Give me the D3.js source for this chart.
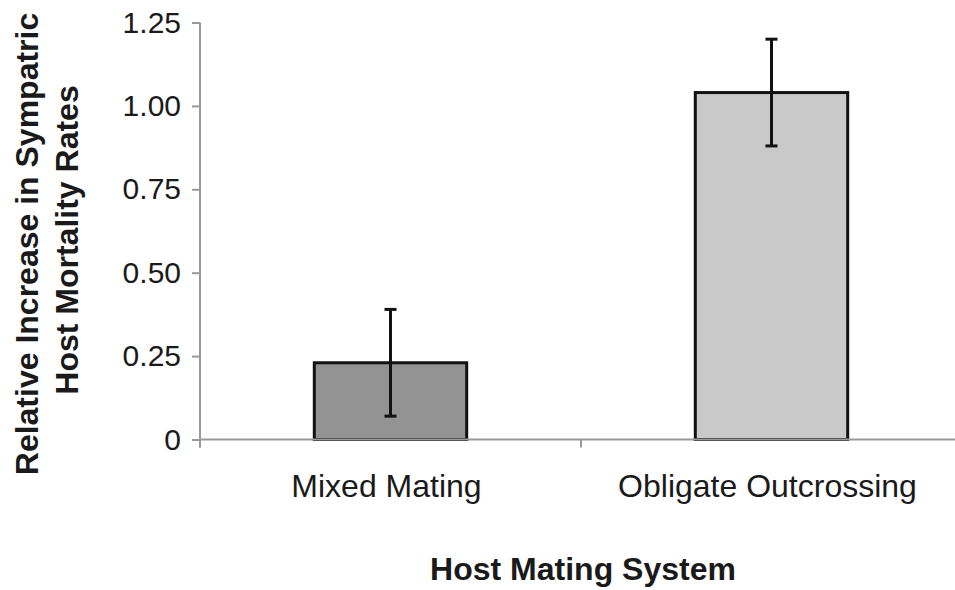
<!DOCTYPE html>
<html>
<head>
<meta charset="utf-8">
<script src="https://cdn.jsdelivr.net/npm/d3@7"></script>
<style>
  body { margin: 0; background: #fff; }
  text { font-family: "Liberation Sans", Arial, sans-serif; }
</style>
</head>
<body>
<svg id="chart" width="955" height="590"></svg>
<script>
const categories = ["Mixed Mating", "Obligate Outcrossing"];
const means = [0.23, 1.04];
const errLow = [0.07, 0.88];
const errHigh = [0.39, 1.20];
const fills = ["#939393", "#c9c9c9"];
const yTicks = [0, 0.25, 0.5, 0.75, 1.0, 1.25];

const data = categories.map((c, i) => ({
  name: c, value: means[i], lo: errLow[i], hi: errHigh[i], fill: fills[i]
}));

const svg = d3.select("#chart");
const margin = { top: 22.5, left: 200, bottom: 150.5 };
const height = 590 - margin.top - margin.bottom;
const bandWidth = 381;

const x = d3.scaleBand()
  .domain(categories)
  .range([0, bandWidth * categories.length])
  .paddingInner(0.6)
  .paddingOuter(0.3);

const y = d3.scaleLinear()
  .domain([0, 1.25])
  .range([height, 0]);

const chart = svg.append("g")
  .attr("transform", `translate(${margin.left}, ${margin.top})`);

// y axis
const yAxis = chart.append("g")
  .call(d3.axisLeft(y)
    .tickValues(yTicks)
    .tickSize(8)
    .tickPadding(11)
    .tickFormat(d => d === 0 ? "0" : d3.format(".2f")(d)));
yAxis.select(".domain").attr("stroke", "#999").attr("stroke-width", 2)
  .attr("d", `M0,0V${height + 8}`);
yAxis.selectAll(".tick line").attr("stroke", "#999").attr("stroke-width", 2);
yAxis.selectAll(".tick text")
  .attr("fill", "#1a1a1a")
  .style("font-size", "30px");

// x axis line + category separator ticks
const xAxisG = chart.append("g").attr("transform", `translate(0, ${height})`);
xAxisG.append("line")
  .attr("x1", 0).attr("x2", 760)
  .attr("stroke", "#999").attr("stroke-width", 2);
xAxisG.selectAll(".sep")
  .data(d3.range(categories.length + 1))
  .enter()
  .append("line")
  .attr("x1", d => d * bandWidth).attr("x2", d => d * bandWidth)
  .attr("y1", 0).attr("y2", 8)
  .attr("stroke", "#999").attr("stroke-width", 2);

xAxisG.selectAll(".cat")
  .data(categories)
  .enter()
  .append("text")
  .attr("x", d => x(d) + x.bandwidth() / 2 - 4)
  .attr("y", 57)
  .attr("text-anchor", "middle")
  .attr("fill", "#1a1a1a")
  .style("font-size", "32px")
  .text(d => d);

// bars
chart.selectAll(".bar")
  .data(data)
  .enter()
  .append("rect")
  .attr("x", d => x(d.name))
  .attr("y", d => y(d.value))
  .attr("width", x.bandwidth())
  .attr("height", d => y(0) - y(d.value))
  .attr("fill", d => d.fill)
  .attr("stroke", "#111")
  .attr("stroke-width", 3);

// redraw x axis line over bar bottoms
xAxisG.raise();

// error bars
const err = chart.selectAll(".err")
  .data(data)
  .enter()
  .append("g")
  .attr("stroke", "#111")
  .attr("stroke-width", 3);
err.append("line")
  .attr("x1", d => x(d.name) + x.bandwidth() / 2)
  .attr("x2", d => x(d.name) + x.bandwidth() / 2)
  .attr("y1", d => y(d.hi))
  .attr("y2", d => y(d.lo));
err.selectAll(".cap")
  .data(d => [d.hi, d.lo].map(v => ({ v, cx: x(d.name) + x.bandwidth() / 2 })))
  .enter()
  .append("line")
  .attr("x1", d => d.cx - 6)
  .attr("x2", d => d.cx + 6)
  .attr("y1", d => y(d.v))
  .attr("y2", d => y(d.v));

// axis titles
svg.append("text")
  .attr("transform", "translate(38, 244) rotate(-90)")
  .attr("text-anchor", "middle")
  .attr("fill", "#1a1a1a")
  .style("font-size", "32px")
  .style("font-weight", "bold")
  .text("Relative Increase in Sympatric");
svg.append("text")
  .attr("transform", "translate(78, 240) rotate(-90)")
  .attr("text-anchor", "middle")
  .attr("fill", "#1a1a1a")
  .style("font-size", "32px")
  .style("font-weight", "bold")
  .text("Host Mortality Rates");

svg.append("text")
  .attr("x", 583)
  .attr("y", 580)
  .attr("text-anchor", "middle")
  .attr("fill", "#1a1a1a")
  .style("font-size", "32px")
  .style("font-weight", "bold")
  .text("Host Mating System");
</script>
</body>
</html>
